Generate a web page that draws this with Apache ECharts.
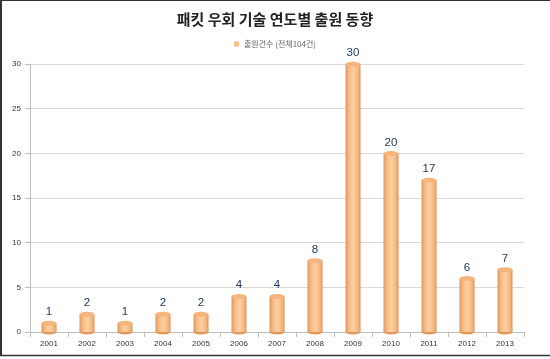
<!DOCTYPE html>
<html><head><meta charset="utf-8">
<script src="https://cdn.jsdelivr.net/npm/echarts@6/dist/echarts.min.js"></script>
<style>html,body{margin:0;padding:0;background:#fff}#c{width:550px;height:359px}</style>
</head><body><div id="c"></div>
<script>
var categories = ['2001','2002','2003','2004','2005','2006','2007','2008','2009','2010','2011','2012','2013'];
var values = [1,2,1,2,2,4,4,8,30,20,17,6,7];
var yTicks = [0,5,10,15,20,25,30];
var seriesName = '출원건수 (전체104건)';

var chart = echarts.init(document.getElementById('c'));
var barGrad = new echarts.graphic.LinearGradient(0,0,1,0,[
  {offset:0,color:'#E29858'},{offset:0.3,color:'#F9C28E'},{offset:0.55,color:'#FCCFA2'},{offset:0.85,color:'#F3B47C'},{offset:1,color:'#DC9252'}]);
chart.setOption({
  animation:false,
  backgroundColor:'#fff',
  title:{text:'패킷 우회 기술 연도별 출원 동향',left:'center',top:7,
    textStyle:{fontFamily:'Noto Sans CJK KR',fontSize:15,fontWeight:'bold',color:'#222'}},
  legend:{top:35,left:'center',itemWidth:5,itemHeight:5,itemGap:4,
    data:[{name:seriesName,icon:'rect',itemStyle:{color:'#F7BE8A'}}],
    textStyle:{fontFamily:'Noto Sans CJK KR',fontSize:8,color:'#666'}},
  grid:{left:30,right:26,top:64,bottom:27,containLabel:false},
  xAxis:{type:'category',data:categories,
    axisLine:{lineStyle:{color:'#BDBDBD'}},
    axisTick:{show:true,lineStyle:{color:'#BDBDBD'}},
    axisLabel:{fontFamily:'Liberation Sans',fontSize:8,color:'#333',margin:8}},
  yAxis:{type:'value',min:0,max:30,interval:5,
    axisLine:{show:true,lineStyle:{color:'#BDBDBD'}},
    axisTick:{show:true,lineStyle:{color:'#BDBDBD'}},
    splitLine:{lineStyle:{color:'#D9D9D9'}},
    axisLabel:{fontFamily:'Liberation Sans',fontSize:8,color:'#333',margin:9,
      formatter:function(v){return yTicks.indexOf(v)>=0?String(v):'';}}},
  series:[
    {name:seriesName,type:'bar',data:values,barWidth:15,
      itemStyle:{color:barGrad},
      label:{show:true,position:'top',distance:5,fontFamily:'Liberation Sans',fontSize:11.5,color:'#1F3864'}},
    {name:'top',type:'pictorialBar',data:values,symbol:'circle',symbolSize:[15,5],
      symbolPosition:'end',symbolOffset:[0,'-50%'],z:3,
      itemStyle:{color:'#F5B67E',borderColor:'#D98C4C',borderWidth:0.6},tooltip:{show:false}},
    {name:'bottom',type:'pictorialBar',data:values,symbol:'circle',symbolSize:[15,5],
      symbolPosition:'start',symbolOffset:[0,'50%'],z:1,
      itemStyle:{color:'#E29858'},tooltip:{show:false}}
  ],
  graphic:[
    {type:'line',shape:{x1:0,y1:0.5,x2:550,y2:0.5},style:{stroke:'#333',lineWidth:1},silent:true},
    {type:'line',shape:{x1:1,y1:0,x2:1,y2:356},style:{stroke:'#333',lineWidth:2},silent:true},
    {type:'line',shape:{x1:0,y1:355.5,x2:550,y2:355.5},style:{stroke:'#333',lineWidth:1.5},silent:true}
  ]
});
</script></body></html>
